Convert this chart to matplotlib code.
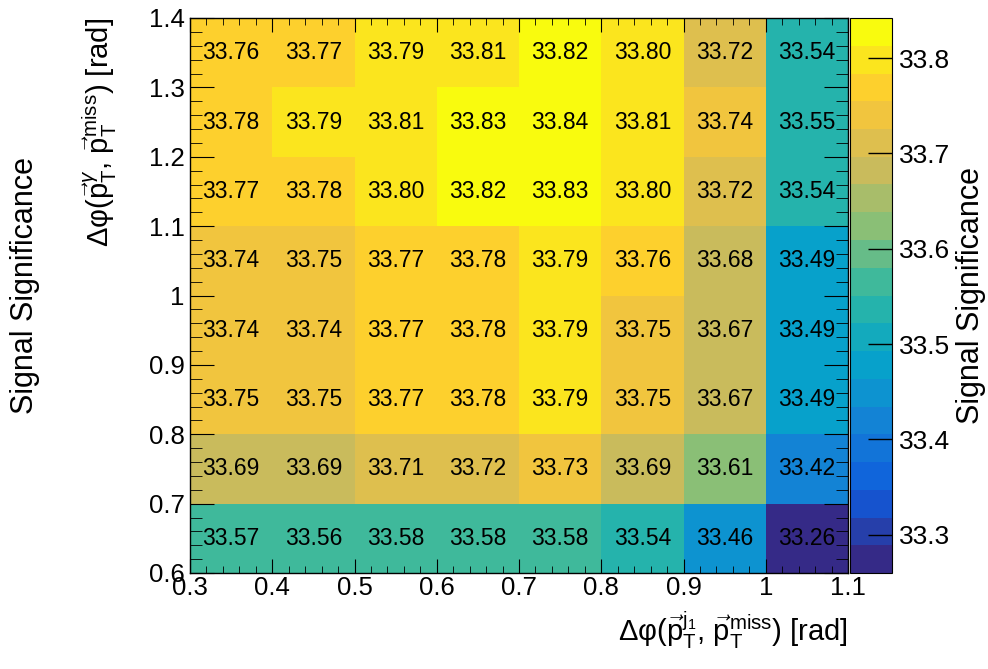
import numpy as np
import matplotlib
matplotlib.use('Agg')
import matplotlib.pyplot as plt
from matplotlib.colors import LinearSegmentedColormap, BoundaryNorm
import matplotlib.ticker as ticker

plt.rcParams['font.family'] = ['Liberation Sans', 'DejaVu Sans']
plt.rcParams['mathtext.fontset'] = 'custom'
plt.rcParams['mathtext.rm'] = 'Liberation Sans'
plt.rcParams['mathtext.it'] = 'Liberation Sans:italic'
plt.rcParams['mathtext.bf'] = 'Liberation Sans:bold'

# bin edges
x_edges = [0.3, 0.4, 0.5, 0.6, 0.7, 0.8, 0.9, 1.0, 1.1]
y_edges = [0.6, 0.7, 0.8, 0.9, 1.0, 1.1, 1.2, 1.3, 1.4]

# significance per bin, rows from y=0.6-0.7 (bottom) to 1.3-1.4 (top)
row_06 = [33.57, 33.56, 33.58, 33.58, 33.58, 33.54, 33.46, 33.26]
row_07 = [33.69, 33.69, 33.71, 33.72, 33.73, 33.69, 33.61, 33.42]
row_08 = [33.75, 33.75, 33.77, 33.78, 33.79, 33.75, 33.67, 33.49]
row_09 = [33.74, 33.74, 33.77, 33.78, 33.79, 33.75, 33.67, 33.49]
row_10 = [33.74, 33.75, 33.77, 33.78, 33.79, 33.76, 33.68, 33.49]
row_11 = [33.77, 33.78, 33.80, 33.82, 33.83, 33.80, 33.72, 33.54]
row_12 = [33.78, 33.79, 33.81, 33.83, 33.84, 33.81, 33.74, 33.55]
row_13 = [33.76, 33.77, 33.79, 33.81, 33.82, 33.80, 33.72, 33.54]
z = np.array([row_06, row_07, row_08, row_09, row_10, row_11, row_12, row_13])

z_min, z_max = 33.26, 33.842
n_contours = 20

# ROOT kBird palette
stops = [0.0, 0.125, 0.25, 0.375, 0.5, 0.625, 0.75, 0.875, 1.0]
red = [0.2082, 0.0592, 0.0780, 0.0232, 0.1802, 0.5301, 0.8186, 0.9956, 0.9764]
green = [0.1664, 0.3599, 0.5041, 0.6419, 0.7178, 0.7492, 0.7328, 0.7862, 0.9832]
blue = [0.5293, 0.8684, 0.8385, 0.7914, 0.6425, 0.4662, 0.3499, 0.1968, 0.0539]
bird = LinearSegmentedColormap.from_list(
    'bird', list(zip(stops, zip(red, green, blue))), N=255)
levels = np.linspace(z_min, z_max, n_contours + 1)
norm = BoundaryNorm(levels, ncolors=bird.N)

fig = plt.figure(figsize=(9.88, 6.69), dpi=100)
ax = fig.add_axes([190/988, 96/669, 658/988, 555/669])
mesh = ax.pcolormesh(x_edges, y_edges, z, cmap=bird, norm=norm)

xc = 0.5 * (np.array(x_edges[:-1]) + np.array(x_edges[1:]))
yc = 0.5 * (np.array(y_edges[:-1]) + np.array(y_edges[1:]))
for i, yv in enumerate(yc):
    for j, xv in enumerate(xc):
        ax.text(xv, yv, '%.2f' % z[i, j], ha='center', va='center', fontsize=16.5)

ax.set_xlim(0.3, 1.1)
ax.set_ylim(0.6, 1.4)
ax.xaxis.set_major_locator(ticker.MultipleLocator(0.1))
ax.xaxis.set_minor_locator(ticker.MultipleLocator(0.02))
ax.yaxis.set_major_locator(ticker.MultipleLocator(0.1))
ax.yaxis.set_minor_locator(ticker.MultipleLocator(0.02))
fmt = ticker.FuncFormatter(lambda v, p: '%d' % round(v) if abs(v - round(v)) < 1e-6 else '%.1f' % v)
ax.xaxis.set_major_formatter(fmt)
ax.yaxis.set_major_formatter(fmt)
ax.tick_params(axis='both', which='both', direction='in', top=True, right=True, labelsize=18.5)
ax.tick_params(axis='x', which='major', length=10, pad=2)
ax.tick_params(axis='x', which='minor', length=5)
ax.tick_params(axis='y', which='major', length=17, pad=4)
ax.tick_params(axis='y', which='minor', length=8.5)
for s in ax.spines.values():
    s.set_linewidth(1.0)

fig.text(848/988, 1 - 630/669, r'Δφ($\vec{\mathrm{p}}_{\mathrm{T}}^{\mathrm{j_1}}$, $\vec{\mathrm{p}}_{\mathrm{T}}^{\mathrm{miss}}$) [rad]',
         ha='right', va='center', fontsize=21)
fig.text(100/988, 1 - 18/669, r'Δφ($\vec{\mathrm{p}}_{\mathrm{T}}^{\gamma}$, $\vec{\mathrm{p}}_{\mathrm{T}}^{\mathrm{miss}}$) [rad]',
         ha='center', va='top', rotation=90, fontsize=21)
fig.text(25/988, 1 - 285/669, 'Signal Significance', ha='center', va='center',
         rotation=90, fontsize=22)

cax = fig.add_axes([850/988, 96/669, 42/988, 555/669])
cb = fig.colorbar(mesh, cax=cax, ticks=[33.3, 33.4, 33.5, 33.6, 33.7, 33.8])
cb.ax.set_ylim(z_min, z_max)
cb.ax.tick_params(direction='in', length=17, width=1, labelsize=19, pad=5)
cb.ax.yaxis.set_major_formatter(ticker.FormatStrFormatter('%.1f'))
cb.ax.yaxis.set_minor_locator(ticker.NullLocator())
cb.outline.set_linewidth(0.8)
cb.set_label('Signal Significance', fontsize=22, labelpad=4)

fig.savefig('out.png', dpi=100)
